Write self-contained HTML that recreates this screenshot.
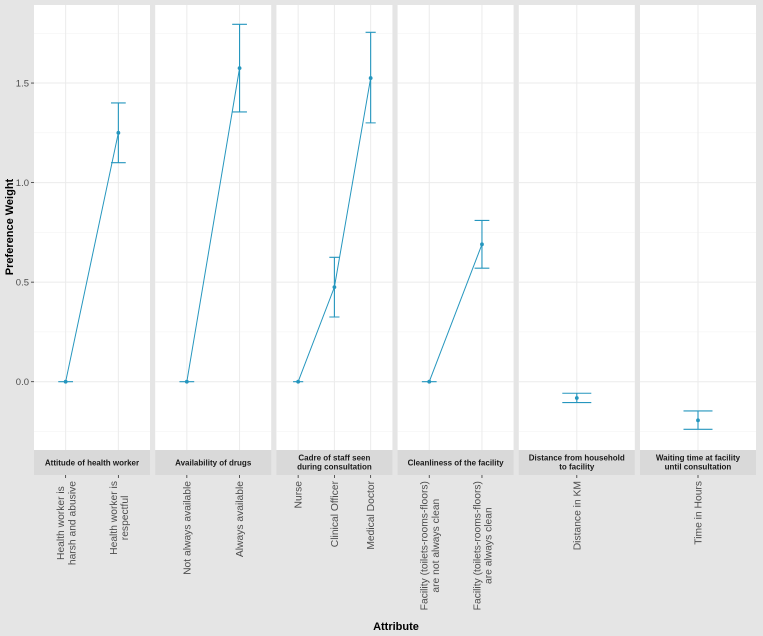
<!DOCTYPE html>
<html><head><meta charset="utf-8"><style>
body{margin:0;background:#e5e5e5;}
svg{display:block;font-family:"Liberation Sans",sans-serif;}
</style></head><body>
<svg id="c" width="763" height="636"></svg>
<script>
const panels = ["Attitude of health worker","Availability of drugs","Cadre of staff seen\nduring consultation","Cleanliness of the facility","Distance from household\nto facility","Waiting time at facility\nuntil consultation"];
const categories = [
 ["Health worker is\nharsh and abusive","Health worker is\nrespectful"],
 ["Not always available","Always available"],
 ["Nurse","Clinical Officer","Medical Doctor"],
 ["Facility (toilets-rooms-floors)\nare not always clean","Facility (toilets-rooms-floors)\nare always clean"],
 ["Distance in KM"],
 ["Time in Hours"]
];
const estimates = [[0,1.25],[0,1.575],[0,0.475,1.525],[0,0.69],[-0.082],[-0.194]];
const lower = [[0,1.10],[0,1.355],[0,0.325,1.30],[0,0.57],[-0.105],[-0.239]];
const upper = [[0,1.40],[0,1.795],[0,0.625,1.755],[0,0.81],[-0.058],[-0.147]];
const yTicks = [0,0.5,1.0,1.5];
const yTickLabels = ["0.0","0.5","1.0","1.5"];

const NS="http://www.w3.org/2000/svg";
const svg=document.getElementById('c');
function mk(t,a,p){const e=document.createElementNS(NS,t);for(const k in a)e.setAttribute(k,a[k]);(p||svg).appendChild(e);return e;}
const topY=5,botY=450,pw=116,step=121.2,x0=34;
const yS=v=>381.7-v*199.1;
const col="#2596be";
yTicks.forEach((v,i)=>{
 const t=mk('text',{x:29,y:yS(v)+3.5,'text-anchor':'end','font-size':9.5,fill:'#4d4d4d'});
 
 
 t.textContent=yTickLabels[i];
 const l=mk('line',{x1:31,x2:34,y1:yS(v),y2:yS(v),stroke:'#333','stroke-width':0.8});
 
 
});
const yt=mk('text',{x:0,y:0,transform:'translate(13,227) rotate(-90)','text-anchor':'middle','font-size':11,'font-weight':'bold',fill:'#000'});


yt.textContent='Preference Weight';
const xt=mk('text',{x:396,y:630,'text-anchor':'middle','font-size':11,'font-weight':'bold',fill:'#000'});


xt.textContent='Attribute';

panels.forEach((name,p)=>{
 const px=x0+p*step;
 const g=mk('g',{});
 
 
 mk('rect',{x:px,y:topY,width:pw,height:botY-topY,fill:'#fff'},g);
 const n=categories[p].length;
 const span=n>1?n-1+1.2:1.12;
 const unit=pw/span;
 const xc=i=>n>1?px+(0.6+i)*unit:px+pw/2;
 [-0.25,0.25,0.75,1.25,1.75].forEach(v=>mk('line',{x1:px,x2:px+pw,y1:yS(v),y2:yS(v),stroke:'#f2f2f2','stroke-width':0.5},g));
 yTicks.forEach(v=>mk('line',{x1:px,x2:px+pw,y1:yS(v),y2:yS(v),stroke:'#ebebeb','stroke-width':1},g));
 categories[p].forEach((c,i)=>mk('line',{x1:xc(i),x2:xc(i),y1:topY,y2:botY,stroke:'#ebebeb','stroke-width':1},g));
 mk('rect',{x:px,y:botY,width:pw,height:25,fill:'#d9d9d9'},g);
 const sl=name.split('\n');
 const st=mk('text',{x:px+pw/2,y:sl.length>1?botY+10.5:botY+15.5,'text-anchor':'middle','font-size':8,'font-weight':'bold',fill:'#1a1a1a'},g);
 
 
 sl.forEach((s,k)=>{const ts=mk('tspan',{x:px+pw/2,dy:k?9:0},st);ts.textContent=s;});
 if(n>1){
  const pl=mk('polyline',{points:estimates[p].map((v,i)=>xc(i)+','+yS(v)).join(' '),fill:'none',stroke:col,'stroke-width':1},g);
  
  
 }
 const cap=0.14*unit;
 categories[p].forEach((c,i)=>{
  const cx=xc(i);
  const eb=mk('path',{d:`M${cx-cap},${yS(upper[p][i])}H${cx+cap}M${cx},${yS(upper[p][i])}V${yS(lower[p][i])}M${cx-cap},${yS(lower[p][i])}H${cx+cap}`,stroke:col,'stroke-width':1.1,fill:'none'},g);
  
  
  const pt=mk('circle',{cx:cx,cy:yS(estimates[p][i]),r:1.9,fill:col},g);
  
  
  mk('line',{x1:cx,x2:cx,y1:475,y2:478,stroke:'#333','stroke-width':0.8},g);
  const ls=c.split('\n');
  const lt=mk('text',{transform:`translate(${cx},481) rotate(-90)`,'text-anchor':'end','font-size':10.3,fill:'#4d4d4d'},g);
  
  
  const off=ls.length>1?-1.5:3.5;
  const spans=ls.map((s,k)=>{const ts=mk('tspan',{x:0,y:off+k*11.2},lt);ts.textContent=s;return ts;});
  if(ls.length>1){
   const ws=spans.map(ts=>ts.getComputedTextLength());
   const mw=Math.max(...ws);
   spans.forEach((ts,k)=>ts.setAttribute('x',-(mw-ws[k])/2));
  }
 });
});
</script>
</body></html>
